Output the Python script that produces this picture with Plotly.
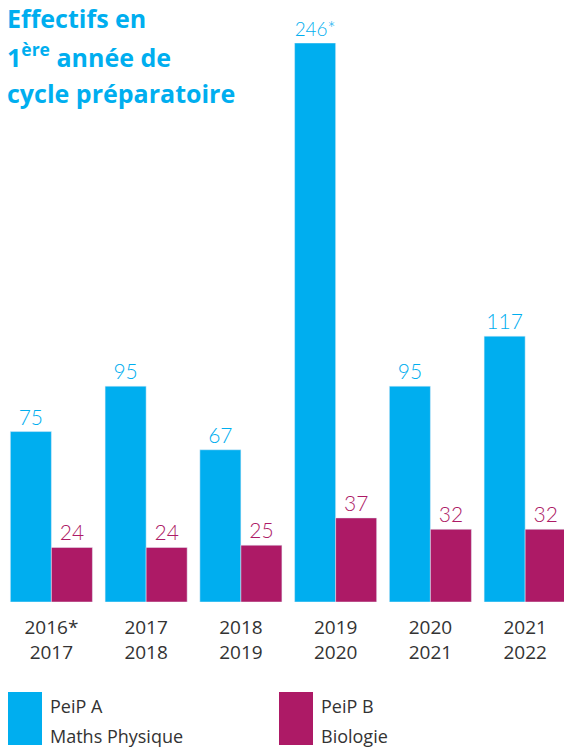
import plotly.graph_objects as go

years = ["2016*<br>2017", "2017<br>2018", "2018<br>2019", "2019<br>2020", "2020<br>2021", "2021<br>2022"]
peip_a = [75, 95, 67, 246, 95, 117]
peip_b = [24, 24, 25, 37, 32, 32]
peip_a_labels = ["75", "95", "67", "246*", "95", "117"]
peip_b_labels = [str(v) for v in peip_b]

CYAN = "#00AEEF"
MAGENTA = "#AD1A66"
FONT = "Open Sans"
LABEL_FONT = "Lato"

W, H = 564, 747
ML, MR, MT, MB = 4, 0, 43, 145
PW, PH = W - ML - MR, H - MT - MB


def px(x):
    return (x - ML) / PW


def py(y):
    return (H - MB - y) / PH


fig = go.Figure()
fig.add_trace(go.Bar(x=years, y=peip_a, text=peip_a_labels, textposition="outside",
                     marker_color=CYAN, textfont=dict(color=CYAN, size=21, family=LABEL_FONT, weight=300),
                     cliponaxis=False, name="PeiP A"))
fig.add_trace(go.Bar(x=years, y=peip_b, text=peip_b_labels, textposition="outside",
                     marker_color=MAGENTA, textfont=dict(color=MAGENTA, size=21, family=LABEL_FONT, weight=300),
                     cliponaxis=False, name="PeiP B"))

title_lines = [("Effectifs en", 0), ("1<sup>ère</sup> année de", 36), ("cycle préparatoire", 75)]
annotations = []
for txt, ytop in title_lines:
    annotations.append(dict(text=txt, x=px(6), y=py(ytop), xref="paper", yref="paper",
                            xanchor="left", yanchor="top", showarrow=False, borderpad=0,
                            font=dict(family=FONT, size=25, color=CYAN, weight="bold")))

legend_items = [(8, "PeiP A", "Maths Physique"), (279, "PeiP B", "Biologie")]
shapes = []
for (x0, l1, l2), col in zip(legend_items, [CYAN, MAGENTA]):
    shapes.append(dict(type="rect", xref="paper", yref="paper", x0=px(x0), x1=px(x0 + 34),
                       y0=py(745), y1=py(692), fillcolor=col, line_width=0))
    for t, yc in [(l1, 706), (l2, 736)]:
        annotations.append(dict(text=t, x=px(x0 + 40), y=py(yc), xref="paper", yref="paper",
                                xanchor="left", yanchor="middle", showarrow=False,
                                font=dict(family=FONT, size=18, color="#333333")))

fig.update_layout(
    width=W, height=H, margin=dict(l=ML, r=MR, t=MT, b=MB),
    paper_bgcolor="white", plot_bgcolor="white",
    barmode="group", bargap=0.134, bargroupgap=0,
    showlegend=False,
    annotations=annotations, shapes=shapes,
    font=dict(family=FONT),
)
fig.update_xaxes(range=[-0.5, 5.41], showgrid=False, showline=False, zeroline=False,
                 tickfont=dict(size=19, color="#333333", family=FONT), ticks="", ticklabelstandoff=12)
fig.update_yaxes(range=[0, 246], visible=False, showgrid=False)

fig.write_html("out.html", config={"displayModeBar": False},
               post_script="document.body.style.margin='0';document.body.style.overflow='hidden';")
